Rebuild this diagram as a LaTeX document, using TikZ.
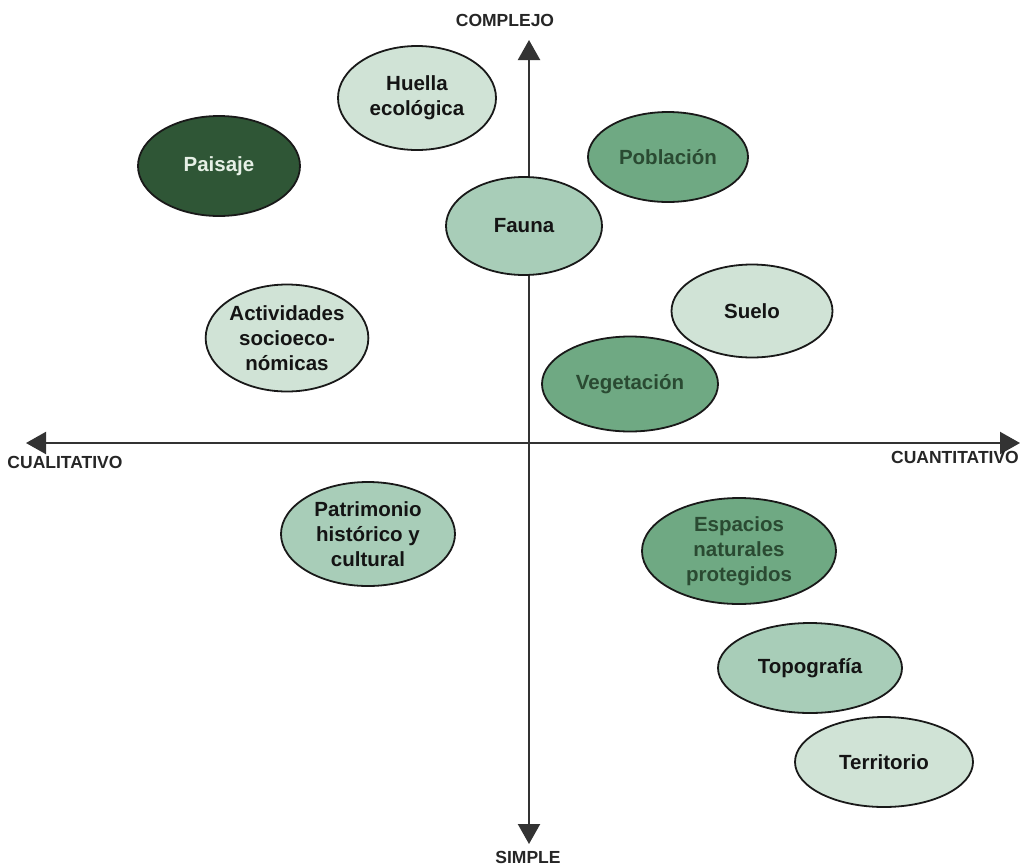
\documentclass[tikz,border=0pt]{standalone}
\usepackage{fontspec}
\setmainfont{Liberation Sans}
\usetikzlibrary{arrows.meta,shapes.geometric}
\definecolor{lightg}{HTML}{D0E3D6}
\definecolor{midg}{HTML}{A8CDB8}
\definecolor{medg}{HTML}{6FA983}
\definecolor{darkg}{HTML}{2F5636}
\definecolor{txtg}{HTML}{2A4A32}
\definecolor{txtw}{HTML}{E6F0E6}
\tikzset{
  blob/.style={ellipse, draw=black!90, line width=1.8pt, inner sep=0pt,
    align=center, font=\fontsize{20.5}{25}\selectfont\bfseries},
  lg/.style={blob, fill=lightg, text=black!92},
  mg/.style={blob, fill=midg, text=black!92},
  dg/.style={blob, fill=medg, text=txtg},
  xg/.style={blob, fill=darkg, text=txtw},
  axis/.style={line width=2.2pt, draw=black!80, -{Triangle[length=20pt,width=22pt]}},
  axlabel/.style={font=\fontsize{17.5}{20}\selectfont\bfseries, text=black!85, inner sep=0pt}
}
\begin{document}
\begin{tikzpicture}[x=1pt,y=-1pt]
\useasboundingbox (0,0) rectangle (1033,865);
\fill[white] (0,0) rectangle (1033,865);
\coordinate (O) at (529,443);
\coordinate (T) at (529,40);
\coordinate (B) at (529,844);
\coordinate (L) at (26,443);
\coordinate (R) at (1020,443);
\draw[axis] (O) -- (T);
\draw[axis] (O) -- (B);
\draw[axis] (O) -- (L);
\draw[axis] (O) -- (R);
\node[axlabel] (complejo) at (505,20) {COMPLEJO};
\node[axlabel] (simple) at (528,857) {SIMPLE};
\node[axlabel] (cuali) at (65,462) {CUALITATIVO};
\node[axlabel] (cuanti) at (955,457) {CUANTITATIVO};
\node[lg, minimum width=158pt, minimum height=104pt] (huella) at (417,98) {Huella\\ecológica};
\node[xg, minimum width=162pt, minimum height=100pt] (paisaje) at (219,166) {Paisaje};
\node[dg, minimum width=160pt, minimum height=90pt] (poblacion) at (668,157) {Población};
\node[mg, minimum width=156pt, minimum height=98pt] (fauna) at (524,226) {Fauna};
\node[lg, minimum width=161pt, minimum height=93pt] (suelo) at (752,311) {Suelo};
\node[lg, minimum width=158pt, minimum height=107pt] (activ) at (287,338) {Actividades\\socioeco-\\nómicas};
\node[dg, minimum width=176pt, minimum height=95pt] (veget) at (630,384) {Vegetación};
\node[mg, minimum width=174pt, minimum height=104pt] (patri) at (368,534) {Patrimonio\\histórico y\\cultural};
\node[dg, minimum width=194pt, minimum height=106pt] (espacios) at (739,551) {Espacios\\naturales\\protegidos};
\node[mg, minimum width=184pt, minimum height=90pt] (topo) at (810,668) {Topografía};
\node[lg, minimum width=178pt, minimum height=90pt] (terr) at (884,762) {Territorio};
\end{tikzpicture}
\end{document}
